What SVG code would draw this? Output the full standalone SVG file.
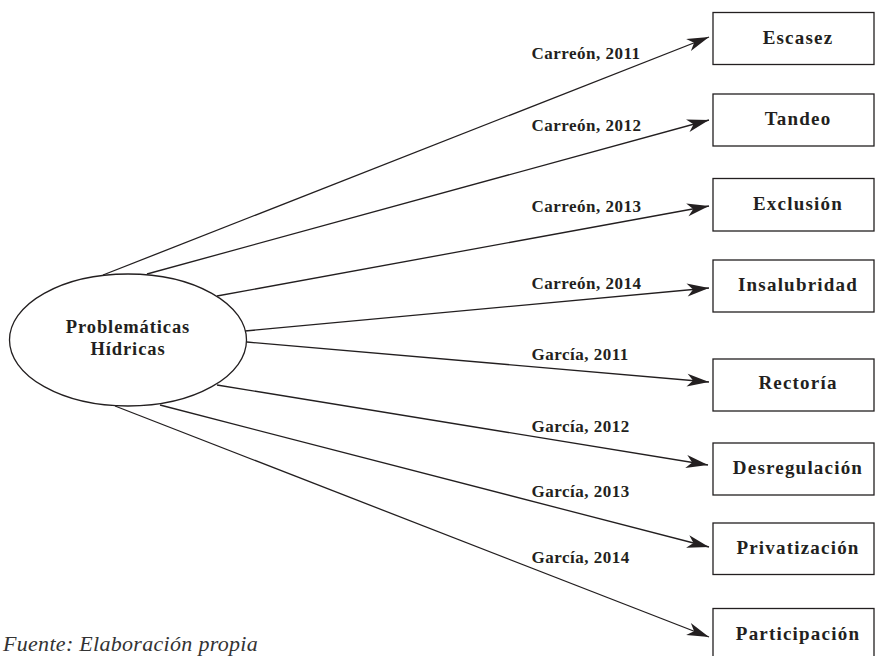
<svg xmlns="http://www.w3.org/2000/svg" width="876" height="656" viewBox="0 0 876 656">
<style>
.bg{fill:#ffffff}
.node{fill:#ffffff;stroke:#231f20;stroke-width:1.3}
.edge{fill:none;stroke:#231f20;stroke-width:1.3}
.bt{font-family:"Liberation Serif",serif;font-weight:700;font-size:19px;letter-spacing:1.2px;fill:#231f20;text-anchor:middle}
.et{font-family:"Liberation Serif",serif;font-weight:700;font-size:18.5px;letter-spacing:0.9px;fill:#231f20;text-anchor:middle}
.lb{font-family:"Liberation Serif",serif;font-weight:700;font-size:17px;letter-spacing:0.5px;fill:#231f20}
.src{font-family:"Liberation Serif",serif;font-style:italic;font-size:22px;letter-spacing:0.3px;fill:#333333}
</style>
<defs>
<marker id="ah" markerUnits="userSpaceOnUse" markerWidth="30" markerHeight="20" viewBox="-24 -10 26 20" refX="0" refY="0" orient="auto">
<path d="M0,0 L-22,-6.5 L-16,0 L-22,6.5 Z" fill="#231f20"/>
</marker>
</defs>
<rect class="bg" x="0" y="0" width="876" height="656"/>
<g id="connectors">
<line class="edge" x1="103" y1="275" x2="709" y2="37" marker-end="url(#ah)"/>
<line class="edge" x1="147" y1="274" x2="709" y2="120" marker-end="url(#ah)"/>
<line class="edge" x1="217" y1="296" x2="709" y2="206" marker-end="url(#ah)"/>
<line class="edge" x1="245" y1="331" x2="709" y2="288" marker-end="url(#ah)"/>
<line class="edge" x1="247" y1="342" x2="709" y2="382" marker-end="url(#ah)"/>
<line class="edge" x1="217" y1="385" x2="708" y2="465" marker-end="url(#ah)"/>
<line class="edge" x1="160" y1="405" x2="709" y2="547" marker-end="url(#ah)"/>
<line class="edge" x1="115" y1="406" x2="709" y2="637" marker-end="url(#ah)"/>
<text class="lb" x="531.5" y="59">Carreón, 2011</text>
<text class="lb" x="531.5" y="131">Carreón, 2012</text>
<text class="lb" x="531.5" y="211.5">Carreón, 2013</text>
<text class="lb" x="531.5" y="289">Carreón, 2014</text>
<text class="lb" x="531.5" y="360">García, 2011</text>
<text class="lb" x="531.5" y="432">García, 2012</text>
<text class="lb" x="531.5" y="497">García, 2013</text>
<text class="lb" x="531.5" y="563">García, 2014</text>
</g>
<g id="problematicas">
<ellipse class="node" cx="128" cy="340" rx="118.5" ry="66"/>
<text class="et" x="128" y="333">Problemáticas</text>
<text class="et" x="128" y="355">Hídricas</text>
</g>
<g id="escasez">
<rect class="node" x="713" y="12.5" width="161" height="52"/>
<text class="bt" x="798" y="43.5">Escasez</text>
</g>
<g id="tandeo">
<rect class="node" x="713" y="94" width="161" height="52"/>
<text class="bt" x="798" y="125">Tandeo</text>
</g>
<g id="exclusion">
<rect class="node" x="713" y="178.5" width="161" height="52.5"/>
<text class="bt" x="798" y="210">Exclusión</text>
</g>
<g id="insalubridad">
<rect class="node" x="713" y="260" width="161" height="52"/>
<text class="bt" x="798" y="291">Insalubridad</text>
</g>
<g id="rectoria">
<rect class="node" x="713" y="359" width="161" height="52"/>
<text class="bt" x="798" y="389">Rectoría</text>
</g>
<g id="desregulacion">
<rect class="node" x="713" y="443" width="161" height="52"/>
<text class="bt" x="798" y="474">Desregulación</text>
</g>
<g id="privatizacion">
<rect class="node" x="713" y="523" width="161" height="51.5"/>
<text class="bt" x="798" y="553.5">Privatización</text>
</g>
<g id="participacion">
<rect class="node" x="713" y="608.5" width="161" height="60"/>
<text class="bt" x="798" y="640">Participación</text>
</g>
<text class="src" x="3" y="651">Fuente: Elaboración propia</text>
</svg>
